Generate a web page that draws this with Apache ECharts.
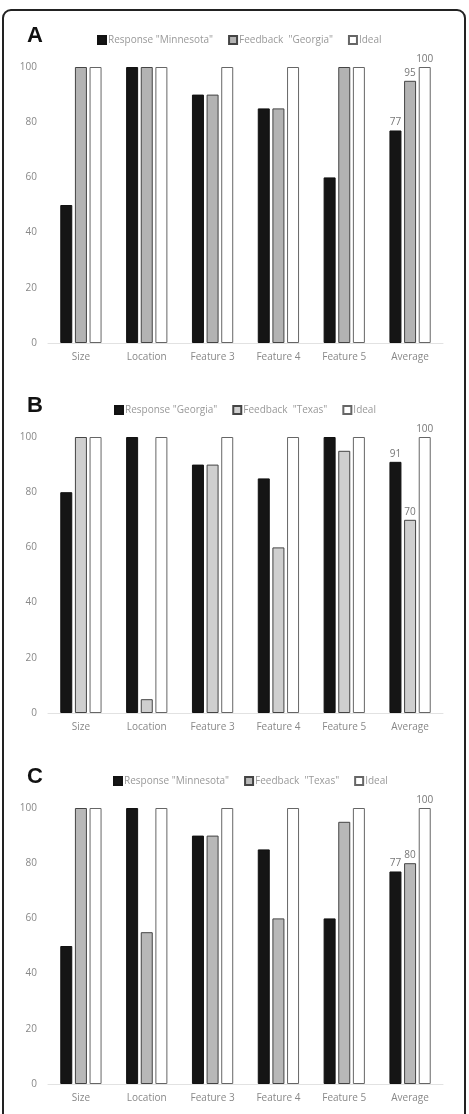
<!DOCTYPE html>
<html lang="en">

<head>
    <meta charset="UTF-8">
    <title></title>
    <style>
        html,
        body {
            margin: 0;
            padding: 0;
            width: 469px;
            height: 1114px;
            background: #fff;
            overflow: hidden;
        }

        #frame {
            position: absolute;
            left: 2px;
            top: 9px;
            width: 460px;
            height: 1130px;
            border: 2px solid #222;
            border-radius: 9px;
        }

        .panel {
            position: absolute;
            left: 0;
            width: 469px;
            height: 380px;
        }
    </style>
</head>

<body>
    <div id="frame"></div>
    <div id="chartA" class="panel" style="top:0px;"></div>
    <div id="chartB" class="panel" style="top:370px;"></div>
    <div id="chartC" class="panel" style="top:741px;"></div>
    <script src="https://cdn.jsdelivr.net/npm/echarts@6/dist/echarts.min.js"></script>
    <script type="text/javascript">
        var categories = ['Size', 'Location', 'Feature 3', 'Feature 4', 'Feature 5', 'Average'];
        var yTicks = [0, 20, 40, 60, 80, 100];

        // panel A
        var respA = [50, 100, 90, 85, 60, 77];
        var feedA = [100, 100, 90, 85, 100, 95];
        var idealA = [100, 100, 100, 100, 100, 100];
        // panel B
        var respB = [80, 100, 90, 85, 100, 91];
        var feedB = [100, 5, 90, 60, 95, 70];
        var idealB = [100, 100, 100, 100, 100, 100];
        // panel C
        var respC = [50, 100, 90, 85, 60, 77];
        var feedC = [100, 55, 90, 60, 95, 80];
        var idealC = [100, 100, 100, 100, 100, 100];

        var font = '"Open Sans", "Liberation Sans", sans-serif';

        function lastLabel(params) {
            return params.dataIndex === categories.length - 1 ? params.value : '';
        }

        function makeOption(letter, names, resp, feed, ideal, greyColor, legendLeft) {
            var lbl = {
                show: true,
                position: 'top',
                distance: 3,
                fontSize: 10,
                color: '#777',
                fontFamily: font,
                formatter: lastLabel
            };
            return {
                animation: false,
                title: {
                    text: letter,
                    left: 22,
                    top: 20,
                    textStyle: {
                        fontSize: 22,
                        fontWeight: 'bold',
                        color: '#111',
                        fontFamily: 'Liberation Sans, Arial, sans-serif'
                    }
                },
                legend: {
                    data: names,
                    left: legendLeft,
                    top: 30,
                    itemWidth: 8,
                    itemHeight: 8,
                    itemGap: 15,
                    icon: 'rect',
                    textStyle: { fontSize: 10, color: '#999', fontFamily: font, padding: [0, 0, 0, -3] }
                },
                grid: { left: 48, right: 26, top: 67, bottom: 37 },
                xAxis: {
                    type: 'category',
                    data: categories,
                    axisTick: { show: false },
                    axisLine: { lineStyle: { color: '#e2e2e2', width: 1 } },
                    axisLabel: { fontSize: 10, color: '#888', margin: 9, fontFamily: font }
                },
                yAxis: {
                    type: 'value',
                    min: yTicks[0],
                    max: yTicks[yTicks.length - 1],
                    interval: 20,
                    splitLine: { show: false },
                    axisLabel: { fontSize: 10, color: '#888', margin: 11, fontFamily: font }
                },
                series: [{
                    name: names[0],
                    type: 'bar',
                    data: resp,
                    barWidth: 12,
                    barGap: '22%',
                    itemStyle: { color: '#151515', borderColor: '#111', borderWidth: 1 },
                    label: lbl
                }, {
                    name: names[1],
                    type: 'bar',
                    data: feed,
                    barWidth: 12,
                    barGap: '22%',
                    itemStyle: { color: greyColor, borderColor: '#444', borderWidth: 1 },
                    label: lbl
                }, {
                    name: names[2],
                    type: 'bar',
                    data: ideal,
                    barWidth: 12,
                    barGap: '22%',
                    itemStyle: { color: '#fff', borderColor: '#666', borderWidth: 1 },
                    label: lbl
                }]
            };
        }

        var chartA = echarts.init(document.getElementById('chartA'));
        chartA.setOption(makeOption('A', ['Response "Minnesota"', 'Feedback  "Georgia"', 'Ideal'],
            respA, feedA, idealA, '#b3b3b3', 92));

        var chartB = echarts.init(document.getElementById('chartB'));
        chartB.setOption(makeOption('B', ['Response "Georgia"', 'Feedback  "Texas"', 'Ideal'],
            respB, feedB, idealB, '#cfcfcf', 109));

        var chartC = echarts.init(document.getElementById('chartC'));
        chartC.setOption(makeOption('C', ['Response "Minnesota"', 'Feedback  "Texas"', 'Ideal'],
            respC, feedC, idealC, '#b8b8b8', 108));
    </script>
</body>

</html>
